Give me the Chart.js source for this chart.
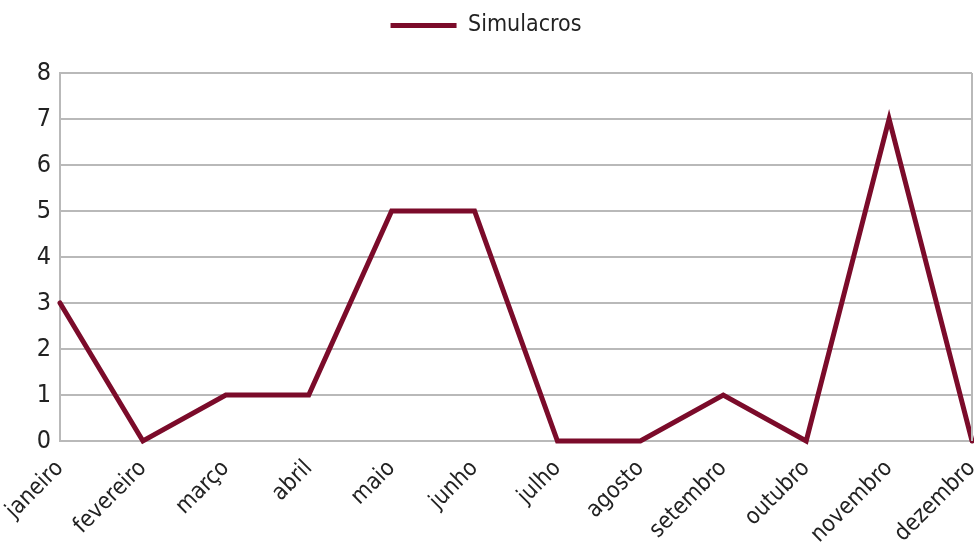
<!DOCTYPE html>
<html>
<head>
<meta charset="utf-8">
<script src="https://cdn.jsdelivr.net/npm/chart.js@4/dist/chart.umd.min.js"></script>
<style>
  html, body { margin: 0; padding: 0; background: #fff; }
  #wrap { width: 974px; height: 542px; }
</style>
</head>
<body>
<div id="wrap"><canvas id="chart" width="974" height="542"></canvas></div>
<script>
// data
const months = ["janeiro", "fevereiro", "março", "abril", "maio", "junho",
  "julho", "agosto", "setembro", "outubro", "novembro", "dezembro"];
const simulacros = [3, 0, 1, 1, 5, 5, 0, 0, 1, 0, 7, 0];
const yTicks = [0, 1, 2, 3, 4, 5, 6, 7, 8];

const FONT = "'DejaVu Sans Condensed', 'Liberation Sans Narrow', 'Arial Narrow', sans-serif";
const lineColor = "#7b0b2a";
const gridColor = "#b9b9b9";

// right border of the plot area
const frame = {
  id: "frame",
  afterDraw(chart) {
    const { ctx, chartArea: a } = chart;
    ctx.save();
    ctx.strokeStyle = gridColor;
    ctx.lineWidth = 2;
    ctx.beginPath();
    ctx.moveTo(a.right, a.top);
    ctx.lineTo(a.right, a.bottom);
    ctx.stroke();
    ctx.restore();
  }
};

// push the plot down under the legend
const legendSpace = {
  id: "legendSpace",
  beforeInit(chart) {
    const fit = chart.legend.fit;
    chart.legend.fit = function () {
      fit.call(this);
      this.height = 71;
    };
  }
};

new Chart(document.getElementById("chart"), {
  type: "line",
  data: {
    labels: months,
    datasets: [{
      label: "Simulacros",
      data: simulacros,
      borderColor: lineColor,
      backgroundColor: lineColor,
      borderWidth: 5,
      borderCapStyle: "round",
      borderJoinStyle: "miter",
      pointRadius: 0,
      tension: 0,
      clip: false
    }]
  },
  options: {
    responsive: false,
    animation: false,
    layout: { padding: { top: 2, right: 2, left: 0, bottom: 0 } },
    plugins: {
      legend: {
        position: "top",
        labels: {
          usePointStyle: true,
          pointStyle: "line",
          pointStyleWidth: 66,
          color: "#222",
          padding: 12,
          font: { family: FONT, size: 23 }
        }
      },
      tooltip: { enabled: false }
    },
    scales: {
      x: {
        offset: false,
        grid: { display: false },
        border: { display: false },
        ticks: {
          color: "#222",
          maxRotation: 45,
          minRotation: 45,
          padding: 6,
          autoSkip: false,
          font: { family: FONT, size: 23 }
        },
        afterFit(scale) {
          scale.height = 101;
          scale.paddingLeft = 0;
          scale.paddingRight = 0;
        }
      },
      y: {
        min: 0,
        max: 8,
        afterBuildTicks(scale) { scale.ticks = yTicks.map(v => ({ value: v })); },
        grid: { color: gridColor, lineWidth: 2, drawTicks: false },
        border: { color: gridColor, width: 2 },
        ticks: {
          color: "#222",
          padding: 9,
          font: { family: FONT, size: 25 }
        },
        afterFit(scale) { scale.width = 60; }
      }
    }
  },
  plugins: [frame, legendSpace]
});
</script>
</body>
</html>
